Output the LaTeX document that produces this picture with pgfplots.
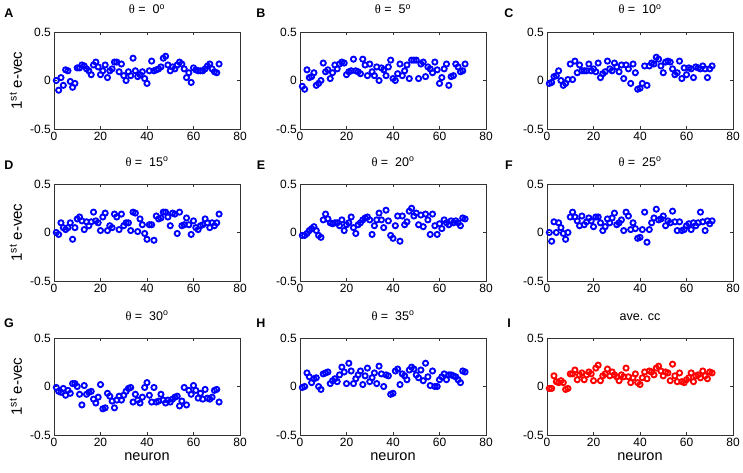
\documentclass[border=0pt]{standalone}
\usepackage{fontspec}
\setmainfont{Liberation Sans}
\newfontfamily\thetafont{Liberation Serif}
\usepackage{pgfplots}
\usepackage{pgfplotstable}
\pgfplotsset{compat=1.18}

\pgfplotstableread{
n A B C D E F G H I
1 0.00 -0.06 -0.03 0.00 -0.03 0.00 -0.01 -0.01 -0.02
2 -0.10 -0.09 -0.02 -0.02 -0.03 -0.09 -0.05 0.00 -0.02
3 0.03 0.11 0.04 0.10 -0.01 0.11 -0.06 0.14 0.11
4 -0.05 0.03 0.05 0.05 0.02 0.00 -0.02 0.10 0.05
5 0.11 0.04 0.10 0.03 0.04 0.10 -0.09 0.04 0.04
6 0.10 0.08 0.00 0.05 0.06 0.05 -0.04 0.08 0.06
7 -0.01 -0.05 -0.05 0.10 0.02 -0.01 -0.07 0.09 0.04
8 -0.07 -0.03 -0.03 -0.07 -0.03 -0.07 0.03 0.00 -0.03
9 -0.03 0.00 0.01 0.05 -0.05 0.00 0.03 -0.03 -0.02
10 0.13 0.18 0.17 0.14 0.13 0.16 0.00 0.13 0.13
11 0.13 0.09 0.01 0.16 0.19 0.21 -0.08 0.14 0.13
12 0.16 0.11 0.20 0.12 0.14 0.16 -0.19 0.15 0.17
13 0.15 0.02 0.08 0.03 0.10 0.12 0.01 0.03 0.07
14 0.12 0.08 0.16 0.11 0.09 0.07 -0.08 0.06 0.12
15 0.10 0.16 0.10 0.07 0.10 0.17 -0.06 0.08 0.14
16 0.06 0.12 0.10 0.11 0.10 0.08 -0.05 0.05 0.07
17 0.16 0.17 0.10 0.21 0.07 0.11 -0.13 0.12 0.12
18 0.19 0.19 0.17 0.12 0.13 0.15 -0.17 0.20 0.15
19 0.14 0.18 0.10 0.10 0.02 0.12 -0.11 0.15 0.13
20 0.06 0.06 0.12 0.02 0.08 0.06 0.02 0.03 0.06
21 0.10 0.09 0.09 0.16 0.10 0.16 -0.23 0.24 0.19
22 0.16 0.10 0.18 0.20 0.16 0.16 -0.22 0.16 0.22
23 0.03 0.22 0.03 0.02 0.05 0.10 -0.07 0.03 0.06
24 0.10 0.10 0.07 0.07 -0.01 0.02 -0.10 0.08 0.11
25 0.12 0.09 0.09 0.05 0.08 0.06 -0.15 0.12 0.13
26 0.19 0.07 0.20 0.19 0.10 0.14 -0.22 0.16 0.18
27 0.19 0.22 0.12 0.16 0.13 0.10 -0.14 0.02 0.11
28 0.09 0.16 0.10 0.03 0.15 0.15 -0.10 0.11 0.15
29 0.17 0.05 0.18 0.19 0.16 0.20 -0.14 0.19 0.12
30 0.05 0.17 0.14 0.07 0.13 0.08 -0.09 0.05 0.10
31 0.00 0.09 0.09 0.10 -0.02 0.10 -0.05 0.09 0.06
32 0.09 0.05 0.16 0.10 0.07 0.13 -0.02 0.14 0.12
33 0.05 0.14 0.02 0.02 0.13 0.02 -0.01 0.03 0.10
34 0.23 0.00 0.16 0.21 0.20 0.21 -0.16 0.21 0.19
35 0.10 0.13 0.12 0.20 0.13 0.17 -0.08 0.13 0.10
36 0.04 0.11 -0.03 0.01 0.05 0.03 -0.14 0.00 0.04
37 0.06 0.05 0.17 0.14 0.23 0.10 -0.17 0.12 0.09
38 0.09 0.14 0.08 0.08 0.12 0.04 -0.11 0.11 0.13
39 0.02 0.21 -0.09 -0.01 -0.03 -0.06 -0.01 -0.08 0.04
40 -0.03 0.02 -0.08 -0.07 -0.06 -0.05 0.04 -0.07 0.02
41 0.10 0.00 -0.03 0.08 0.07 0.03 -0.09 0.16 0.09
42 0.20 0.07 0.15 0.08 0.17 0.21 -0.16 0.18 0.15
43 0.10 0.17 -0.05 -0.08 -0.09 -0.10 -0.01 0.02 0.08
44 0.11 0.05 0.15 0.17 0.17 0.03 -0.16 0.13 0.16
45 0.12 0.10 0.18 0.14 0.08 0.10 -0.15 0.11 0.15
46 0.14 0.16 0.17 0.15 0.11 0.15 -0.08 0.07 0.12
47 0.23 0.02 0.24 0.21 0.22 0.24 -0.14 0.17 0.19
48 0.25 0.21 0.22 0.21 0.25 0.13 -0.17 0.20 0.21
49 0.16 0.21 0.15 0.16 0.17 0.14 -0.14 0.18 0.16
50 0.10 0.21 0.08 0.07 0.20 0.17 -0.16 0.12 0.11
51 0.14 0.02 0.19 0.20 0.08 0.07 -0.13 0.09 0.15
52 0.12 0.17 0.20 0.19 0.18 0.12 -0.11 0.17 0.14
53 0.16 0.19 0.19 -0.01 0.06 0.10 -0.10 0.06 0.06
54 0.19 0.04 0.12 0.21 0.19 0.22 -0.20 0.24 0.23
55 0.17 0.14 0.06 0.07 0.13 0.11 -0.15 0.10 0.11
56 0.12 0.12 0.08 0.08 -0.02 0.02 -0.01 0.01 0.05
57 0.03 0.08 0.20 0.15 0.19 0.11 -0.19 0.16 0.14
58 0.08 0.19 0.02 0.08 0.07 0.02 -0.04 0.00 0.05
59 -0.02 0.11 0.13 -0.02 -0.02 0.03 -0.08 0.00 0.04
60 0.13 -0.03 0.06 0.12 0.09 0.07 0.01 0.07 0.07
61 0.11 0.03 0.13 0.05 0.04 0.09 -0.04 0.10 0.09
62 0.10 0.12 0.12 0.03 0.13 0.03 -0.12 0.13 0.14
63 0.10 0.17 0.03 0.07 0.10 0.10 -0.07 0.07 0.05
64 0.10 -0.05 0.14 0.08 0.08 0.07 -0.13 0.12 0.11
65 0.12 0.04 0.13 0.14 0.12 0.10 -0.03 0.12 0.12
66 0.15 0.05 0.12 0.10 0.10 0.21 -0.12 0.11 0.09
67 0.17 0.17 0.15 0.05 0.12 0.11 -0.13 0.10 0.16
68 0.12 0.14 0.12 0.10 0.10 0.02 -0.11 0.07 0.11
69 0.09 0.09 0.03 0.07 0.07 0.12 -0.04 0.04 0.08
70 0.08 0.10 0.12 0.10 0.15 0.09 -0.03 0.16 0.15
71 0.17 0.17 0.15 0.19 0.14 0.12 -0.16 0.15 0.14
}\data

\pgfplotsset{
  panel/.style={
    scale only axis, width=186pt, height=97pt, anchor=north west,
    xmin=0, xmax=80, ymin=-0.5, ymax=0.5,
    xtick={0,20,40,60,80}, ytick={-0.5,0,0.5},
    tick align=inside, major tick length=2.8pt,
    xtick pos=both, ytick pos=both,
    axis line style={black!80, line width=0.6pt},
    every tick/.style={black!80, line width=0.6pt},
    ticklabel style={font=\fontsize{12}{12}\selectfont},
    xticklabel style={inner sep=2.5pt},
    yticklabel style={/pgf/number format/fixed, inner sep=3pt},
    /pgf/number format/assume math mode=true,
    title style={at={(0.5,1)}, anchor=base, yshift=12pt, font=\fontsize{12.5}{13}\selectfont},
    ylabel style={at={(axis description cs:-0.205,0.5)}, anchor=center, font=\fontsize{15}{15}\selectfont},
    xlabel style={at={(axis description cs:0.5,0)}, anchor=base, yshift=-25pt, inner sep=0.5pt, font=\fontsize{14.5}{14.5}\selectfont},
  },
  pts/.style={only marks, mark=o, mark size=2.6pt, line width=1.85pt},
}
\newcommand{\thet}[1]{{\thetafont θ} = \ #1\textsuperscript{o}}

\begin{document}
\begin{tikzpicture}
\useasboundingbox (0,0) rectangle (743pt,472pt);
% row 1
\begin{axis}[panel, at={(54pt,440pt)}, title={\thet{0}}, ylabel={1\textsuperscript{st} e-vec}]
\addplot[pts, blue] table[x=n, y=A] {\data};
\end{axis}
\begin{axis}[panel, at={(300pt,440pt)}, title={\thet{5}}]
\addplot[pts, blue] table[x=n, y=B] {\data};
\end{axis}
\begin{axis}[panel, at={(547pt,440pt)}, title={\thet{10}}]
\addplot[pts, blue] table[x=n, y=C] {\data};
\end{axis}
% row 2
\begin{axis}[panel, at={(54pt,288pt)}, title={\thet{15}}, ylabel={1\textsuperscript{st} e-vec}]
\addplot[pts, blue] table[x=n, y=D] {\data};
\end{axis}
\begin{axis}[panel, at={(300pt,288pt)}, title={\thet{20}}]
\addplot[pts, blue] table[x=n, y=E] {\data};
\end{axis}
\begin{axis}[panel, at={(547pt,288pt)}, title={\thet{25}}]
\addplot[pts, blue] table[x=n, y=F] {\data};
\end{axis}
% row 3
\begin{axis}[panel, at={(54pt,134pt)}, title={\thet{30}}, ylabel={1\textsuperscript{st} e-vec}, xlabel={neuron}]
\addplot[pts, blue] table[x=n, y=G] {\data};
\end{axis}
\begin{axis}[panel, at={(300pt,134pt)}, title={\thet{35}}, xlabel={neuron}]
\addplot[pts, blue] table[x=n, y=H] {\data};
\end{axis}
\begin{axis}[panel, at={(547pt,134pt)}, title={ave. cc}, xlabel={neuron}]
\addplot[pts, red] table[x=n, y=I] {\data};
\end{axis}
% panel letters
\begin{scope}[every node/.style={font=\bfseries\fontsize{12.5}{12.5}\selectfont, inner sep=0pt}]
\node at (9pt,459pt) {A};
\node at (261pt,459pt) {B};
\node at (509pt,459pt) {C};
\node at (9pt,307pt) {D};
\node at (261pt,307pt) {E};
\node at (509pt,307pt) {F};
\node at (9pt,149pt) {G};
\node at (261pt,149pt) {H};
\node at (509pt,149pt) {I};
\end{scope}
\end{tikzpicture}
\end{document}
